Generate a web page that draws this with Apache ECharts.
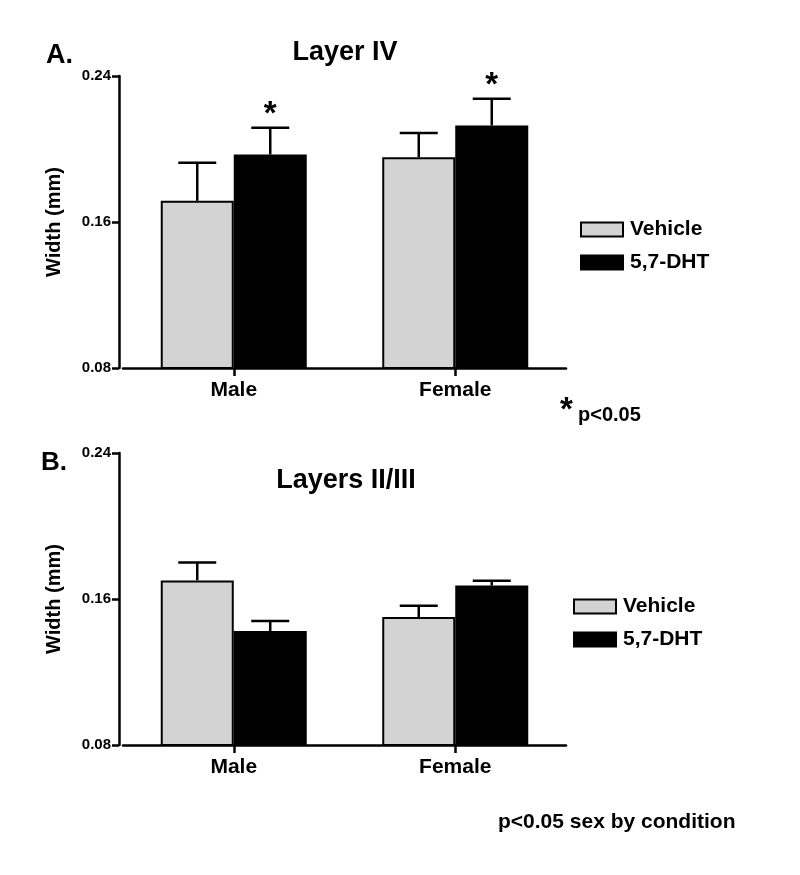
<!DOCTYPE html>
<html><head><meta charset="utf-8">
<script src="https://cdn.jsdelivr.net/npm/echarts@6/dist/echarts.min.js"></script>
<style>html,body{margin:0;padding:0;background:#fff}#c{width:800px;height:875px}</style>
</head><body><div id="c"></div>
<script>
// ---- data ----
const categories = ['Male', 'Female'];
const seriesNames = ['Vehicle', '5,7-DHT'];
const yTickValues = [0.08, 0.16, 0.24];

const layerIVVehicle = [0.1716, 0.1955];
const layerIVVehicleErr = [0.0208, 0.0132];
const layerIVDHT = [0.1970, 0.2129];
const layerIVDHTErr = [0.0146, 0.0147];
const layerIVDHTSig = [true, true];

const layer23Vehicle = [0.1702, 0.1501];
const layer23VehicleErr = [0.0098, 0.0062];
const layer23DHT = [0.1424, 0.1674];
const layer23DHTErr = [0.0055, 0.0026];
const layer23DHTSig = [false, false];

// ---- styling ----
const FONT = "'Liberation Sans', Arial, Helvetica, sans-serif";
const BAR_W = 73;
const GREY = '#d3d3d3';
const LINE_W = 2.5;

const chart = echarts.init(document.getElementById('c'), null, {renderer: 'canvas'});

function xAxisCfg(gi) {
  return {
    type: 'category', gridIndex: gi, data: categories, boundaryGap: true,
    axisLine: {show: true, lineStyle: {color: '#000', width: LINE_W}},
    axisTick: {show: true, alignWithLabel: true, length: 8, lineStyle: {color: '#000', width: LINE_W}},
    axisLabel: {color: '#000', fontFamily: FONT, fontWeight: 'bold', fontSize: 21, margin: 12},
    splitLine: {show: false}
  };
}
function yAxisCfg(gi) {
  return {
    type: 'value', gridIndex: gi, min: yTickValues[0], max: yTickValues[yTickValues.length - 1],
    interval: yTickValues[1] - yTickValues[0], offset: 4,
    name: 'Width (mm)', nameLocation: 'middle', nameGap: 55,
    nameTextStyle: {color: '#000', fontFamily: FONT, fontWeight: 'bold', fontSize: 20},
    axisLine: {show: true, lineStyle: {color: '#000', width: LINE_W}},
    axisTick: {show: true, length: 7, lineStyle: {color: '#000', width: LINE_W}},
    axisLabel: {color: '#000', fontFamily: FONT, fontWeight: 'bold', fontSize: 15, margin: 8,
      formatter: v => v.toFixed(2)},
    splitLine: {show: false}
  };
}
function barSeries(name, gi, values, color) {
  return {
    type: 'bar', name: name, xAxisIndex: gi, yAxisIndex: gi, data: values,
    barWidth: BAR_W, barGap: '0%',
    itemStyle: {color: color, borderColor: '#000', borderWidth: 2},
    emphasis: {disabled: true}, z: 2
  };
}
function errSeries(gi, means, errs, sig, side) {
  return {
    type: 'custom', name: 'err' + gi + side, xAxisIndex: gi, yAxisIndex: gi, z: 3,
    data: categories.map((c, i) => [i, means[i], errs[i], sig && sig[i] ? 1 : 0]),
    renderItem: function (params, api) {
      const base = api.coord([api.value(0), api.value(1)]);
      const top = api.coord([api.value(0), api.value(1) + api.value(2)]);
      const cx = base[0] + side * BAR_W / 2;
      const children = [
        {type: 'line', shape: {x1: cx, y1: base[1], x2: cx, y2: top[1]}, style: {stroke: '#000', lineWidth: LINE_W}},
        {type: 'line', shape: {x1: cx - 19, y1: top[1], x2: cx + 19, y2: top[1]}, style: {stroke: '#000', lineWidth: LINE_W}}
      ];
      if (api.value(3)) {
        children.push({type: 'text', x: cx, y: top[1] - 13,
          style: {text: '*', fill: '#000', font: 'bold 33px ' + FONT, align: 'center', verticalAlign: 'middle'}});
      }
      return {type: 'group', children: children};
    }
  };
}
function legendCfg(left, top) {
  return {
    data: seriesNames, left: left, top: top, orient: 'vertical', icon: 'rect', padding: 0,
    itemWidth: 42, itemHeight: 14, itemGap: 12, selectedMode: false,
    textStyle: {color: '#000', fontFamily: FONT, fontWeight: 'bold', fontSize: 21, padding: [0, 0, 0, 2]}
  };
}
function txt(text, x, y, size, align) {
  return {type: 'text', x: x, y: y, style: {text: text, fill: '#000', font: 'bold ' + size + 'px ' + FONT,
    align: align || 'left', verticalAlign: 'middle'}};
}

chart.setOption({
  backgroundColor: '#fff',
  animation: false,
  grid: [
    {left: 123, right: 234, top: 76, height: 292},
    {left: 123, right: 234, top: 453, height: 292}
  ],
  xAxis: [xAxisCfg(0), xAxisCfg(1)],
  yAxis: [yAxisCfg(0), yAxisCfg(1)],
  legend: [legendCfg(580, 219), legendCfg(573, 596)],
  series: [
    barSeries(seriesNames[0], 0, layerIVVehicle, GREY),
    barSeries(seriesNames[1], 0, layerIVDHT, '#000'),
    errSeries(0, layerIVVehicle, layerIVVehicleErr, null, -1),
    errSeries(0, layerIVDHT, layerIVDHTErr, layerIVDHTSig, 1),
    barSeries(seriesNames[0], 1, layer23Vehicle, GREY),
    barSeries(seriesNames[1], 1, layer23DHT, '#000'),
    errSeries(1, layer23Vehicle, layer23VehicleErr, null, -1),
    errSeries(1, layer23DHT, layer23DHTErr, layer23DHTSig, 1)
  ],
  graphic: [
    txt('A.', 46, 56, 27),
    txt('Layer IV', 345, 53, 27, 'center'),
    txt('B.', 41, 463, 26),
    txt('Layers II/III', 346, 481, 27, 'center'),
    txt('*', 560, 411, 33),
    txt('p<0.05', 578, 415, 20),
    txt('p<0.05 sex by condition', 498, 822, 21)
  ]
});
</script></body></html>
